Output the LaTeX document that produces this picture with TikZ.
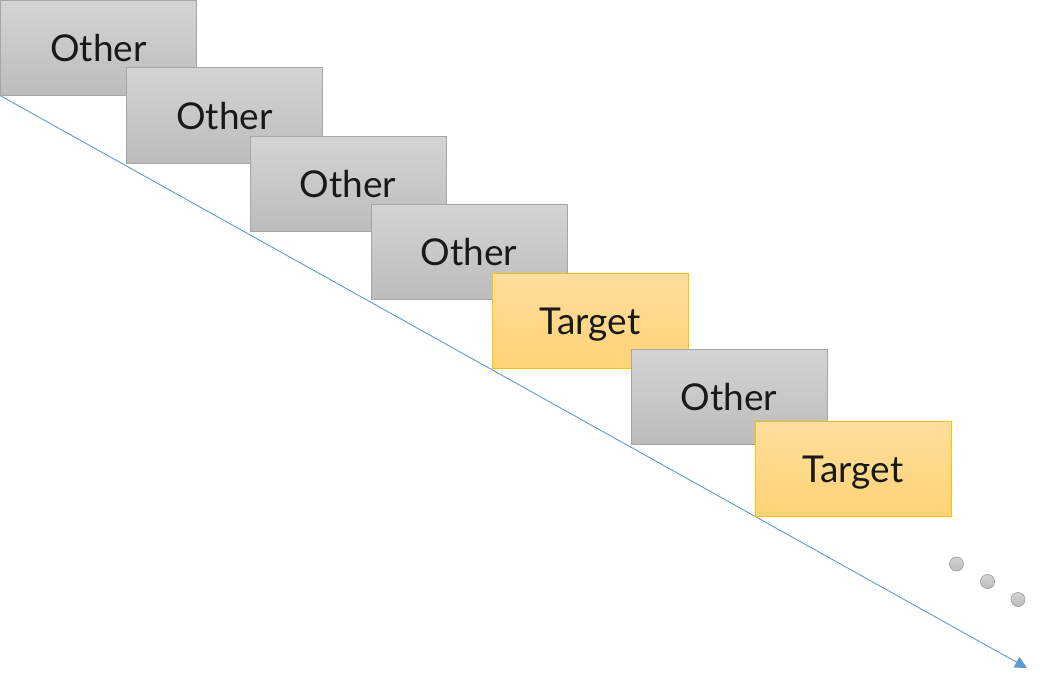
\documentclass[tikz,border=0pt]{standalone}
\usepackage{fontspec}
\setmainfont{Lato}
\usetikzlibrary{arrows.meta}
\definecolor{graytop}{HTML}{D4D4D4}
\definecolor{graybot}{HTML}{BCBCBC}
\definecolor{grayedge}{HTML}{A6A6A6}
\definecolor{goldtop}{HTML}{FFDD9C}
\definecolor{goldbot}{HTML}{FFD476}
\definecolor{goldedge}{HTML}{FFC000}
\definecolor{lineblue}{HTML}{5B9BD5}
\tikzset{
  card/.style={anchor=north west, minimum width=196pt, minimum height=95pt,
    inner sep=0pt, line width=1pt, font=\fontsize{37}{44}\selectfont, text=black!90,
    text height=29pt, text depth=2pt},
  otherbox/.style={card, draw=grayedge, top color=graytop, bottom color=graybot},
  targetbox/.style={card, draw=goldedge, top color=goldtop, bottom color=goldbot},
  dotstyle/.style={circle, minimum size=14pt, inner sep=0pt, draw=grayedge, line width=0.8pt,
    top color=graytop, bottom color=graybot},
  timeline/.style={draw=lineblue, line width=0.9pt, -{Triangle[length=12pt,width=12pt]}}
}
\begin{document}
\begin{tikzpicture}[x=1pt,y=-1pt]
\useasboundingbox (0,0) rectangle (1040,682);
\coordinate (start) at (0,95.5);
\coordinate (end) at (1027,668);
\draw[timeline] (start) -- (end);
\node[otherbox] (o1) at (0,0) {Other};
\node[otherbox] (o2) at (126,67.5) {Other};
\node[otherbox] (o3) at (249.5,135.5) {Other};
\node[otherbox] (o4) at (370.5,204) {Other};
\node[targetbox] (t1) at (491.5,272.5) {Target};
\node[otherbox] (o5) at (630.5,348.5) {Other};
\node[targetbox] (t2) at (754.5,420.5) {Target};
\node[dotstyle] (d1) at (956.5,564) {};
\node[dotstyle] (d2) at (987.5,581.5) {};
\node[dotstyle] (d3) at (1018,599.5) {};
\end{tikzpicture}
\end{document}
